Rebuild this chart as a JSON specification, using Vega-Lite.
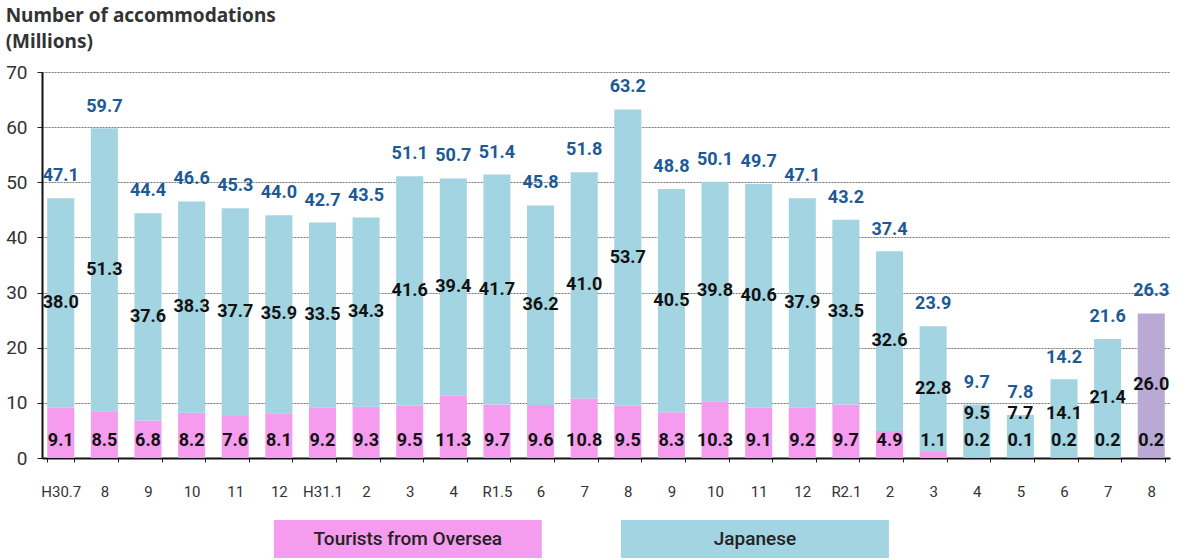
{
  "$schema": "https://vega.github.io/schema/vega-lite/v6.json",
  "background": "white",
  "padding": {"left": 5, "top": 7, "right": 5, "bottom": 0},
  "spacing": 21,
  "config": {"view": {"stroke": null}, "font": "Roboto"},
  "vconcat": [
    {
      "width": 1128,
      "height": 386,
      "title": {"text": ["Number of accommodations", "(Millions)"], "anchor": "start", "frame": "bounds", "font": "Noto Sans", "fontSize": 19, "fontWeight": "bold", "color": "#333333", "lineHeight": 26, "offset": 11},
      "data": {"values": [
        {"k": "H30.7|a", "total": 47.1, "jp": 38.0, "os": 9.1, "prelim": false},
        {"k": "8|a", "total": 59.7, "jp": 51.3, "os": 8.5, "prelim": false},
        {"k": "9|a", "total": 44.4, "jp": 37.6, "os": 6.8, "prelim": false},
        {"k": "10|a", "total": 46.6, "jp": 38.3, "os": 8.2, "prelim": false},
        {"k": "11|a", "total": 45.3, "jp": 37.7, "os": 7.6, "prelim": false},
        {"k": "12|a", "total": 44.0, "jp": 35.9, "os": 8.1, "prelim": false},
        {"k": "H31.1|b", "total": 42.7, "jp": 33.5, "os": 9.2, "prelim": false},
        {"k": "2|b", "total": 43.5, "jp": 34.3, "os": 9.3, "prelim": false},
        {"k": "3|b", "total": 51.1, "jp": 41.6, "os": 9.5, "prelim": false},
        {"k": "4|b", "total": 50.7, "jp": 39.4, "os": 11.3, "prelim": false},
        {"k": "R1.5|b", "total": 51.4, "jp": 41.7, "os": 9.7, "prelim": false},
        {"k": "6|b", "total": 45.8, "jp": 36.2, "os": 9.6, "prelim": false},
        {"k": "7|b", "total": 51.8, "jp": 41.0, "os": 10.8, "prelim": false},
        {"k": "8|b", "total": 63.2, "jp": 53.7, "os": 9.5, "prelim": false},
        {"k": "9|b", "total": 48.8, "jp": 40.5, "os": 8.3, "prelim": false},
        {"k": "10|b", "total": 50.1, "jp": 39.8, "os": 10.3, "prelim": false},
        {"k": "11|b", "total": 49.7, "jp": 40.6, "os": 9.1, "prelim": false},
        {"k": "12|b", "total": 47.1, "jp": 37.9, "os": 9.2, "prelim": false},
        {"k": "R2.1|c", "total": 43.2, "jp": 33.5, "os": 9.7, "prelim": false},
        {"k": "2|c", "total": 37.4, "jp": 32.6, "os": 4.9, "prelim": false},
        {"k": "3|c", "total": 23.9, "jp": 22.8, "os": 1.1, "prelim": false},
        {"k": "4|c", "total": 9.7, "jp": 9.5, "os": 0.2, "prelim": false},
        {"k": "5|c", "total": 7.8, "jp": 7.7, "os": 0.1, "prelim": false},
        {"k": "6|c", "total": 14.2, "jp": 14.1, "os": 0.2, "prelim": false},
        {"k": "7|c", "total": 21.6, "jp": 21.4, "os": 0.2, "prelim": false},
        {"k": "8|c", "total": 26.3, "jp": 26.0, "os": 0.2, "prelim": true}
      ]},
      "encoding": {
        "x": {
          "field": "k", "type": "nominal", "sort": null,
          "scale": {"paddingInner": 0.38, "paddingOuter": 0.12},
          "axis": {"title": null, "labelAngle": 0, "labelExpr": "split(datum.label, '|')[0]", "labelFontSize": 15, "labelColor": "#333333", "labelPadding": 22, "tickBand": "extent", "tickSize": 4, "tickColor": "#222222", "domainColor": "#111111", "domainWidth": 2, "grid": false}
        }
      },
      "layer": [
        {
          "transform": [{"fold": ["os", "jp"], "as": ["series", "value"]}],
          "mark": {"type": "bar"},
          "encoding": {
            "y": {"field": "value", "type": "quantitative", "stack": "zero",
              "scale": {"domain": [0, 70], "nice": false},
              "axis": {"title": null, "values": [0, 10, 20, 30, 40, 50, 60, 70], "labelFontSize": 19, "labelColor": "#333333", "labelPadding": 10, "tickSize": 5, "tickColor": "#222222", "domainColor": "#111111", "domainWidth": 2, "gridColor": "#777777", "gridDash": [2, 1], "gridWidth": 1}},
            "color": {
              "condition": {"test": "datum.prelim", "value": "#b9a9d4"},
              "field": "series", "type": "nominal",
              "scale": {"domain": ["os", "jp"], "range": ["#f59cef", "#a2d4e2"]},
              "legend": null
            },
            "order": {"field": "series", "sort": "descending"}
          }
        },
        {
          "mark": {"type": "text", "baseline": "middle", "dy": -22, "fontSize": 18, "fontWeight": "bold", "color": "#1c5a96"},
          "encoding": {
            "y": {"field": "total", "type": "quantitative"},
            "text": {"field": "total", "type": "quantitative", "format": ".1f"}
          }
        },
        {
          "transform": [{"calculate": "max(datum.os + datum.jp / 2, 8)", "as": "jpLabelY"}],
          "mark": {"type": "text", "baseline": "middle", "fontSize": 18, "fontWeight": "bold", "color": "#111111"},
          "encoding": {
            "y": {"field": "jpLabelY", "type": "quantitative"},
            "text": {"field": "jp", "type": "quantitative", "format": ".1f"}
          }
        },
        {
          "mark": {"type": "text", "baseline": "middle", "fontSize": 18, "fontWeight": "bold", "color": "#111111"},
          "encoding": {
            "y": {"datum": 3},
            "text": {"field": "os", "type": "quantitative", "format": ".1f"}
          }
        }
      ]
    },
    {
      "width": 1128,
      "height": 38,
      "data": {"values": [
        {"name": "Tourists from Oversea", "c": "os"},
        {"name": "Japanese", "c": "jp"}
      ]},
      "encoding": {
        "x": {"field": "name", "type": "nominal", "sort": null, "axis": null,
          "scale": {"domain": ["Tourists from Oversea", "Japanese"], "paddingInner": 0.228, "paddingOuter": 0.739, "align": 0.452}}
      },
      "layer": [
        {
          "mark": {"type": "bar"},
          "encoding": {
            "color": {"field": "c", "type": "nominal", "scale": {"domain": ["os", "jp"], "range": ["#f79cf2", "#bde3ee"]}, "legend": null}
          }
        },
        {
          "mark": {"type": "text", "font": "Roboto", "fontSize": 19, "fontWeight": 500, "color": "#222222", "baseline": "middle"},
          "encoding": {"text": {"field": "name"}, "y": {"value": 19}}
        }
      ]
    }
  ]
}
